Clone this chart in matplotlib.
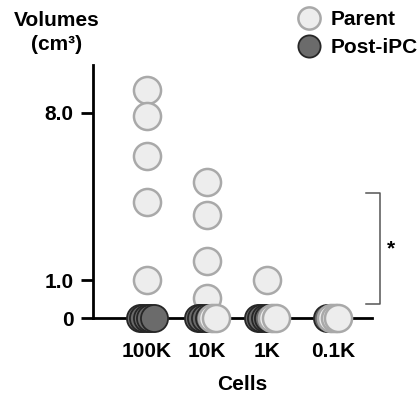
import numpy as np
import matplotlib
matplotlib.use('Agg')
import matplotlib.pyplot as plt
from matplotlib.lines import Line2D

plt.rcParams['font.family'] = ['Liberation Sans', 'DejaVu Sans']
plt.rcParams['font.weight'] = 'bold'

cells = ['100K', '10K', '1K', '0.1K']
parent = [
	[8.95, 7.86, 6.21, 4.29, 1.0],
	[5.12, 3.74, 1.82, 0.54, 0, 0],
	[1.0, 0, 0],
	[0, 0, 0],
]
post_ipc = [
	[0, 0, 0, 0, 0],
	[0, 0, 0, 0],
	[0, 0, 0, 0],
	[0],
]
yticks = [0, 1, 8]
yticklabels = ['0', '1.0', '8.0']

# piecewise y scale: 0-1 stretched, 1-10 compressed
k = 1.58
fwd = lambda y: np.where(y <= 1, y * k, k + (y - 1))
inv = lambda u: np.where(u <= k, u / k, u - k + 1)

W, H = 418, 393
fig = plt.figure(figsize=(W / 100, H / 100), dpi=100)
ax = fig.add_axes([93 / W, 1 - 318 / H, (372 - 93) / W, (318 - 65) / H])
ax.set_yscale('function', functions=(fwd, inv))

group_x = [0, 1, 2, 3.1]
step = 0.06
par_kw = dict(s=380, facecolor='#ededed', edgecolor='#a9a9a9', linewidths=1.8, clip_on=False)
post_kw = dict(s=380, facecolor='#6b6b6b', edgecolor='#262626', linewidths=1.3, clip_on=False)

for gx, pv, qv in zip(group_x, parent, post_ipc):
	pv = np.asarray(pv, dtype=float)
	qv = np.asarray(qv, dtype=float)
	# values above zero stacked in the column
	hi = pv[pv > 0]
	ax.scatter(np.full(len(hi), gx), hi, zorder=3, **par_kw)
	# zeros spread sideways: post-iPC first, parent after
	nq = int((qv == 0).sum())
	npz = int((pv == 0).sum())
	n = nq + npz
	offs = (np.arange(n) - (n - 1) / 2) * step
	for i in range(n):
		kw = post_kw if i < nq else par_kw
		ax.scatter([gx + offs[i]], [0], zorder=4 + i, **kw)

ax.set_xlim(-0.895, 3.755)
ax.set_ylim(0, 10)
ax.spines['top'].set_visible(False)
ax.spines['right'].set_visible(False)
for s in ['left', 'bottom']:
	ax.spines[s].set_linewidth(2)
ax.set_yticks(yticks)
ax.set_yticklabels(yticklabels)
ax.yaxis.set_minor_locator(matplotlib.ticker.NullLocator())
ax.tick_params(axis='y', length=9, width=2, pad=5, labelsize=15)
ax.set_xticks(group_x)
ax.set_xticklabels(cells)
ax.tick_params(axis='x', length=0, pad=17, labelsize=15)

# significance bracket
bx0, bx1 = 3.655, 3.89
by0, by1 = 0.37, 4.66
ax.plot([bx0, bx1, bx1, bx0], [by1, by1, by0, by0], color='#555555', lw=1.1, clip_on=False)
ax.text(4.07, 2.3, '*', ha='center', va='center', fontsize=15, clip_on=False)

fig.text(57 / W, 1 - 20 / H, 'Volumes', ha='center', va='center', fontsize=15)
fig.text(57 / W, 1 - 45 / H, '(cm³)', ha='center', va='center', fontsize=15)
fig.text(242 / W, 1 - 384 / H, 'Cells', ha='center', va='center', fontsize=15)

handles = [
	Line2D([], [], ls='none', marker='o', markersize=16, markerfacecolor='#ededed', markeredgecolor='#a9a9a9', markeredgewidth=1.8),
	Line2D([], [], ls='none', marker='o', markersize=16, markerfacecolor='#6b6b6b', markeredgecolor='#262626', markeredgewidth=1.3),
]
fig.legend(handles, ['Parent', 'Post-iPC'], loc='upper left', bbox_to_anchor=(296 / W, 1 - 10 / H),
	frameon=False, fontsize=15, handlelength=1.2, handletextpad=0.45, labelspacing=0.45, borderpad=0, borderaxespad=0)

fig.savefig('out.png', dpi=100)
